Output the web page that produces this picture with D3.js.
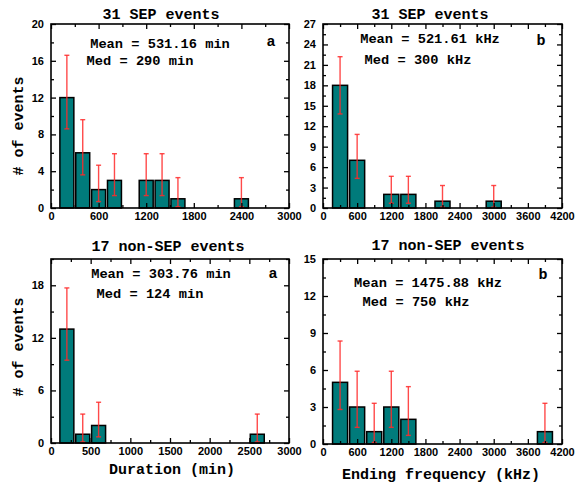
<!DOCTYPE html>
<html><head><meta charset="utf-8">
<script src="https://cdn.jsdelivr.net/npm/d3@7"></script>
<style>
html,body{margin:0;padding:0;background:#fff;}
svg text{fill:#000;}
.tick text{font-family:"Liberation Sans",Arial,sans-serif;font-weight:bold;font-size:11px;}
.mono{font-family:"Courier New","Liberation Mono",monospace;font-weight:bold;}
</style>
</head><body>
<svg id="chart" width="580" height="486"></svg>
<script>
// ---- data ----
// Panel a (top): duration, 31 SEP events
const durSepBins = [200, 400, 600, 800, 1200, 1400, 1600, 2400];
const durSepCounts = [12, 6, 2, 3, 3, 3, 1, 1];
const durSepErrHi = [16.6, 9.6, 4.65, 5.9, 5.9, 5.9, 3.3, 3.3];
const durSepErrLo = [8.6, 3.6, 0.7, 1.35, 1.35, 1.35, 0.13, 0.13];
// Panel b (top): ending frequency, 31 SEP events
const freqSepBins = [300, 600, 1200, 1500, 2100, 3000];
const freqSepCounts = [18, 7, 2, 2, 1, 1];
const freqSepErrHi = [22.2, 10.8, 4.65, 4.65, 3.3, 3.3];
const freqSepErrLo = [13.8, 4.35, 0.7, 0.7, 0.13, 0.13];
// Panel a (bottom): duration, 17 non-SEP events
const durNonBins = [200, 400, 600, 2600];
const durNonCounts = [13, 1, 2, 1];
const durNonErrHi = [17.7, 3.3, 4.65, 3.3];
const durNonErrLo = [9.45, 0.13, 0.7, 0.13];
// Panel b (bottom): ending frequency, 17 non-SEP events
const freqNonBins = [300, 600, 900, 1200, 1500, 3900];
const freqNonCounts = [5, 3, 1, 3, 2, 1];
const freqNonErrHi = [8.35, 5.9, 3.3, 5.9, 4.65, 3.3];
const freqNonErrLo = [2.8, 1.35, 0.13, 1.35, 0.7, 0.13];

const titles = ["31 SEP events", "31 SEP events", "17 non-SEP events", "17 non-SEP events"];
const meanTexts = ["Mean = 531.16 min", "Mean = 521.61 kHz", "Mean = 303.76 min", "Mean = 1475.88 kHz"];
const medTexts = ["Med = 290 min", "Med = 300 kHz", "Med = 124 min", "Med = 750 kHz"];
const panelLetters = ["a", "b", "a", "b"];
const xLabels = ["", "", "Duration (min)", "Ending frequency (kHz)"];
const yLabel = "# of events";

const xTicksDur = [0, 600, 1200, 1800, 2400, 3000];
const xTicksDurNon = [0, 500, 1000, 1500, 2000, 2500, 3000];
const xTicksFreq = [0, 600, 1200, 1800, 2400, 3000, 3600, 4200];
const yTicks1 = [0, 4, 8, 12, 16, 20];
const yTicks2 = [0, 3, 6, 9, 12, 15, 18, 21, 24, 27];
const yTicks3 = [0, 6, 12, 18];
const yTicks4 = [0, 3, 6, 9, 12, 15];

// ---- layout ----
const svg = d3.select("#chart");
const panels = [
  {x0:51, x1:289, y0:24, y1:208, xdom:[0,3000], ydom:[0,20], xt:xTicksDur, xm:300, yt:yTicks1, ym:2, bin:200,
   bins:durSepBins, counts:durSepCounts, hi:durSepErrHi, lo:durSepErrLo,
   title:[161,19], mean:[160,48], med:[140,65], letter:[271,46], ylab:[23,126]},
  {x0:323, x1:562, y0:24, y1:208, xdom:[0,4200], ydom:[0,27], xt:xTicksFreq, xm:300, yt:yTicks2, ym:1.5, bin:300,
   bins:freqSepBins, counts:freqSepCounts, hi:freqSepErrHi, lo:freqSepErrLo,
   title:[430,19], mean:[430,43], med:[418,64], letter:[541,45]},
  {x0:51, x1:289, y0:259, y1:443, xdom:[0,3000], ydom:[0,21], xt:xTicksDurNon, xm:250, yt:yTicks3, ym:3, bin:200,
   bins:durNonBins, counts:durNonCounts, hi:durNonErrHi, lo:durNonErrLo,
   title:[168,251], mean:[161,278], med:[150,298], letter:[273,278], ylab:[23,347], xlab:[172,474]},
  {x0:323, x1:562, y0:259, y1:444, xdom:[0,4200], ydom:[0,15], xt:xTicksFreq, xm:300, yt:yTicks4, ym:1.5, bin:300,
   bins:freqNonBins, counts:freqNonCounts, hi:freqNonErrHi, lo:freqNonErrLo,
   title:[448,250], mean:[428,287], med:[416,306], letter:[543,279], xlab:[441,479]}
];

function rangeStep(a, b, s){ const out=[]; for(let v=a; v<=b+1e-9; v+=s) out.push(+v.toFixed(6)); return out; }

panels.forEach((p, i) => {
  const x = d3.scaleLinear().domain(p.xdom).range([p.x0, p.x1]);
  const y = d3.scaleLinear().domain(p.ydom).range([p.y1, p.y0]);
  const g = svg.append("g");
  const xMinor = rangeStep(p.xdom[0], p.xdom[1], p.xm).filter(v => !p.xt.includes(v));
  const yMinor = rangeStep(p.ydom[0], p.ydom[1], p.ym).filter(v => !p.yt.includes(v));

  // bars
  const data = p.bins.map((c, k) => ({c, n:p.counts[k], hi:p.hi[k], lo:p.lo[k]}));
  const halfW = p.bin * 0.44;
  g.selectAll("rect.bar").data(data).enter().append("rect")
    .attr("x", d => x(d.c - halfW)).attr("width", d => x(d.c + halfW) - x(d.c - halfW))
    .attr("y", d => y(d.n)).attr("height", d => y(0) - y(d.n))
    .attr("fill", "#007b7b").attr("stroke", "#000").attr("stroke-width", 1.5);

  // error bars
  const eb = g.selectAll("g.eb").data(data).enter().append("g")
    .attr("stroke", "#ff2a2a").attr("stroke-width", 1.4).attr("stroke-opacity", 0.85);
  eb.append("line").attr("x1", d => x(d.c)).attr("x2", d => x(d.c)).attr("y1", d => y(d.hi)).attr("y2", d => y(d.lo));
  eb.append("line").attr("x1", d => x(d.c) - 2.5).attr("x2", d => x(d.c) + 2.5).attr("y1", d => y(d.hi)).attr("y2", d => y(d.hi));
  eb.append("line").attr("x1", d => x(d.c) - 2.5).attr("x2", d => x(d.c) + 2.5).attr("y1", d => y(d.lo)).attr("y2", d => y(d.lo));

  // axes (inward ticks on all sides)
  const addAxis = (axis, tr) => {
    const a = g.append("g").attr("transform", tr).call(axis);
    a.select(".domain").remove();
    a.selectAll(".tick line").attr("stroke", "#000").attr("stroke-width", 1.3);
    return a;
  };
  addAxis(d3.axisBottom(x).tickValues(p.xt).tickSize(-5).tickPadding(4).tickFormat(d3.format("d")), `translate(0,${p.y1})`);
  addAxis(d3.axisBottom(x).tickValues(xMinor).tickSize(-3).tickFormat(""), `translate(0,${p.y1})`);
  addAxis(d3.axisTop(x).tickValues(p.xt).tickSize(-5).tickFormat(""), `translate(0,${p.y0})`);
  addAxis(d3.axisTop(x).tickValues(xMinor).tickSize(-3).tickFormat(""), `translate(0,${p.y0})`);
  addAxis(d3.axisLeft(y).tickValues(p.yt).tickSize(-5).tickPadding(7).tickFormat(d3.format("d")), `translate(${p.x0},0)`);
  addAxis(d3.axisLeft(y).tickValues(yMinor).tickSize(-3).tickFormat(""), `translate(${p.x0},0)`);
  addAxis(d3.axisRight(y).tickValues(p.yt).tickSize(-5).tickFormat(""), `translate(${p.x1},0)`);
  addAxis(d3.axisRight(y).tickValues(yMinor).tickSize(-3).tickFormat(""), `translate(${p.x1},0)`);

  // frame
  g.append("rect").attr("x", p.x0).attr("y", p.y0).attr("width", p.x1 - p.x0).attr("height", p.y1 - p.y0)
    .attr("fill", "none").attr("stroke", "#000").attr("stroke-width", 1.6);

  // texts
  g.append("text").attr("class", "mono").attr("x", p.title[0]).attr("y", p.title[1])
    .attr("text-anchor", "middle").style("font-size", "15px").text(titles[i]);
  g.append("text").attr("class", "mono").attr("x", p.mean[0]).attr("y", p.mean[1])
    .attr("text-anchor", "middle").style("font-size", "13.7px").text(meanTexts[i]);
  g.append("text").attr("class", "mono").attr("x", p.med[0]).attr("y", p.med[1])
    .attr("text-anchor", "middle").style("font-size", "13.7px").text(medTexts[i]);
  g.append("text").attr("class", "mono").attr("x", p.letter[0]).attr("y", p.letter[1])
    .attr("text-anchor", "middle").style("font-size", "15px").text(panelLetters[i]);
  if (p.ylab) {
    g.append("text").attr("class", "mono")
      .attr("transform", `translate(${p.ylab[0]},${p.ylab[1]}) rotate(-90)`)
      .attr("text-anchor", "middle").style("font-size", "15px").text(yLabel);
  }
  if (p.xlab) {
    g.append("text").attr("class", "mono").attr("x", p.xlab[0]).attr("y", p.xlab[1])
      .attr("text-anchor", "middle").style("font-size", "15px").text(xLabels[i]);
  }
});
</script>
</body></html>
